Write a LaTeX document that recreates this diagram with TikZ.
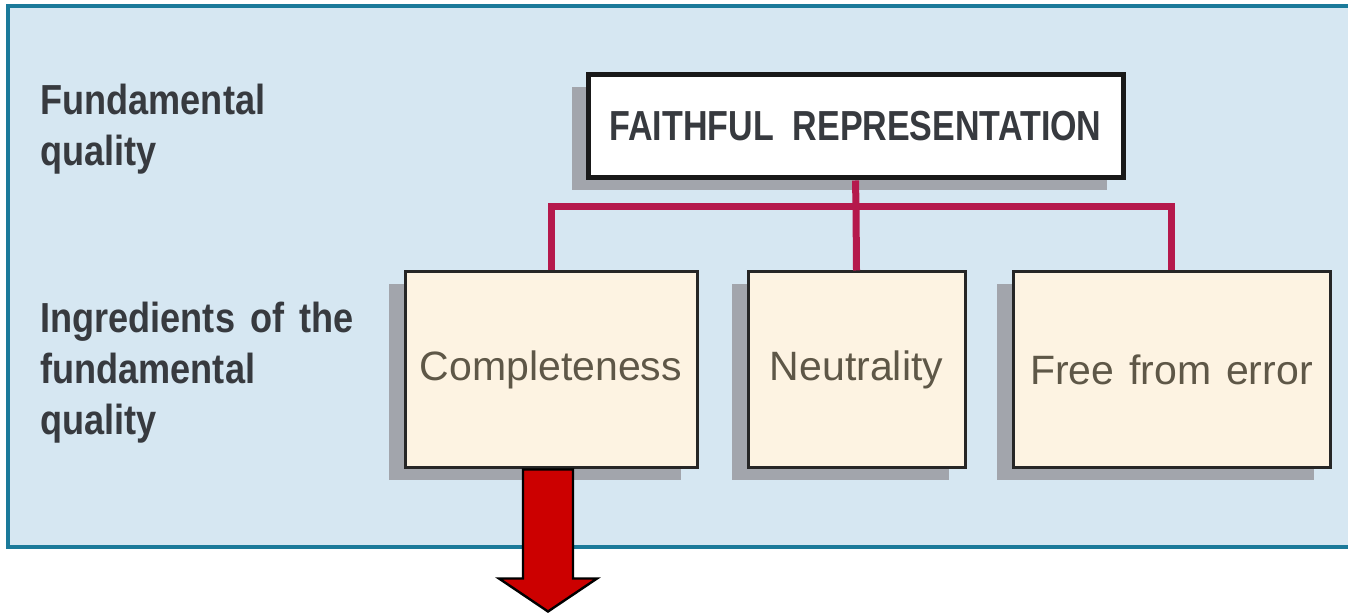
\documentclass[tikz,border=0pt]{standalone}
\usepackage{fontspec}
\setmainfont{Liberation Sans}[WordSpace=1.3]
\newfontfamily\labfont[FakeStretch=0.86,WordSpace=1.5]{Liberation Sans}
\newfontfamily\ttlfont[FakeStretch=0.81,WordSpace=2.0]{Liberation Sans}
\usetikzlibrary{shadows,calc}
\definecolor{bgfill}{HTML}{D6E7F2}
\definecolor{bgline}{HTML}{1B7A9A}
\definecolor{boxfill}{HTML}{FDF3E2}
\definecolor{shadowc}{HTML}{A2A5AC}
\definecolor{connc}{HTML}{B5194C}
\definecolor{arrowred}{HTML}{CC0000}
\definecolor{labtext}{HTML}{373A3F}
\definecolor{boxtext}{HTML}{5E5747}
\tikzset{
  shad/.style={drop shadow={shadow xshift=-8pt, shadow yshift=-6pt, fill=shadowc, opacity=1}},
  ingbox/.style={draw=black!85, line width=1.5pt, fill=boxfill, minimum height=98pt,
    text=boxtext, font=\fontsize{20.5}{24}\selectfont, shad},
  ttlbox/.style={draw=black!90, line width=2.5pt, fill=white, minimum width=267.5pt,
    minimum height=51.5pt, text=labtext, font=\ttlfont\bfseries\fontsize{21}{25}\selectfont, shad},
  lab/.style={align=left, inner sep=0pt, text=labtext,
    font=\labfont\bfseries\fontsize{21}{25.5}\selectfont},
  connline/.style={draw=connc, line width=3.5pt},
  bigarrow/.style={fill=arrowred, draw=black, line width=1.2pt, line join=miter}
}
\begin{document}
\begin{tikzpicture}[x=0.5pt,y=-0.5pt]
\useasboundingbox (0,0) rectangle (1348,613);
\draw[bgline, line width=2pt, fill=bgfill] (8,6) rectangle (1370,547);

\node[lab, anchor=north west] (l1) at (40,84) {Fundamental\\quality};
\node[lab, anchor=north west] (l2) at (40,302) {Ingredients of the\\fundamental\\quality};

\node[ttlbox] (t) at (855.5,126.5) {FAITHFUL REPRESENTATION};
\node[ingbox, minimum width=146pt] (c) at (551,370) {Completeness};
\node[ingbox, minimum width=108.5pt] (n) at (856.5,370) {Neutrality};
\node[ingbox, minimum width=158.5pt] (f) at (1171.5,370) {Free from error};

\coordinate (j) at (856,207);
\draw[connline] (t.south) -- (j);
\draw[connline] (c.north) |- (j) -| (f.north);
\draw[connline] (j) -- (n.north);

\draw[bigarrow] ($(c.south)+(-28,0)$) -- ($(c.south)+(22,0)$) -- ($(c.south)+(22,109)$)
  -- ($(c.south)+(46,109)$) -- ($(c.south)+(-3,142)$) -- ($(c.south)+(-52,109)$)
  -- ($(c.south)+(-28,109)$) -- cycle;
\end{tikzpicture}
\end{document}
